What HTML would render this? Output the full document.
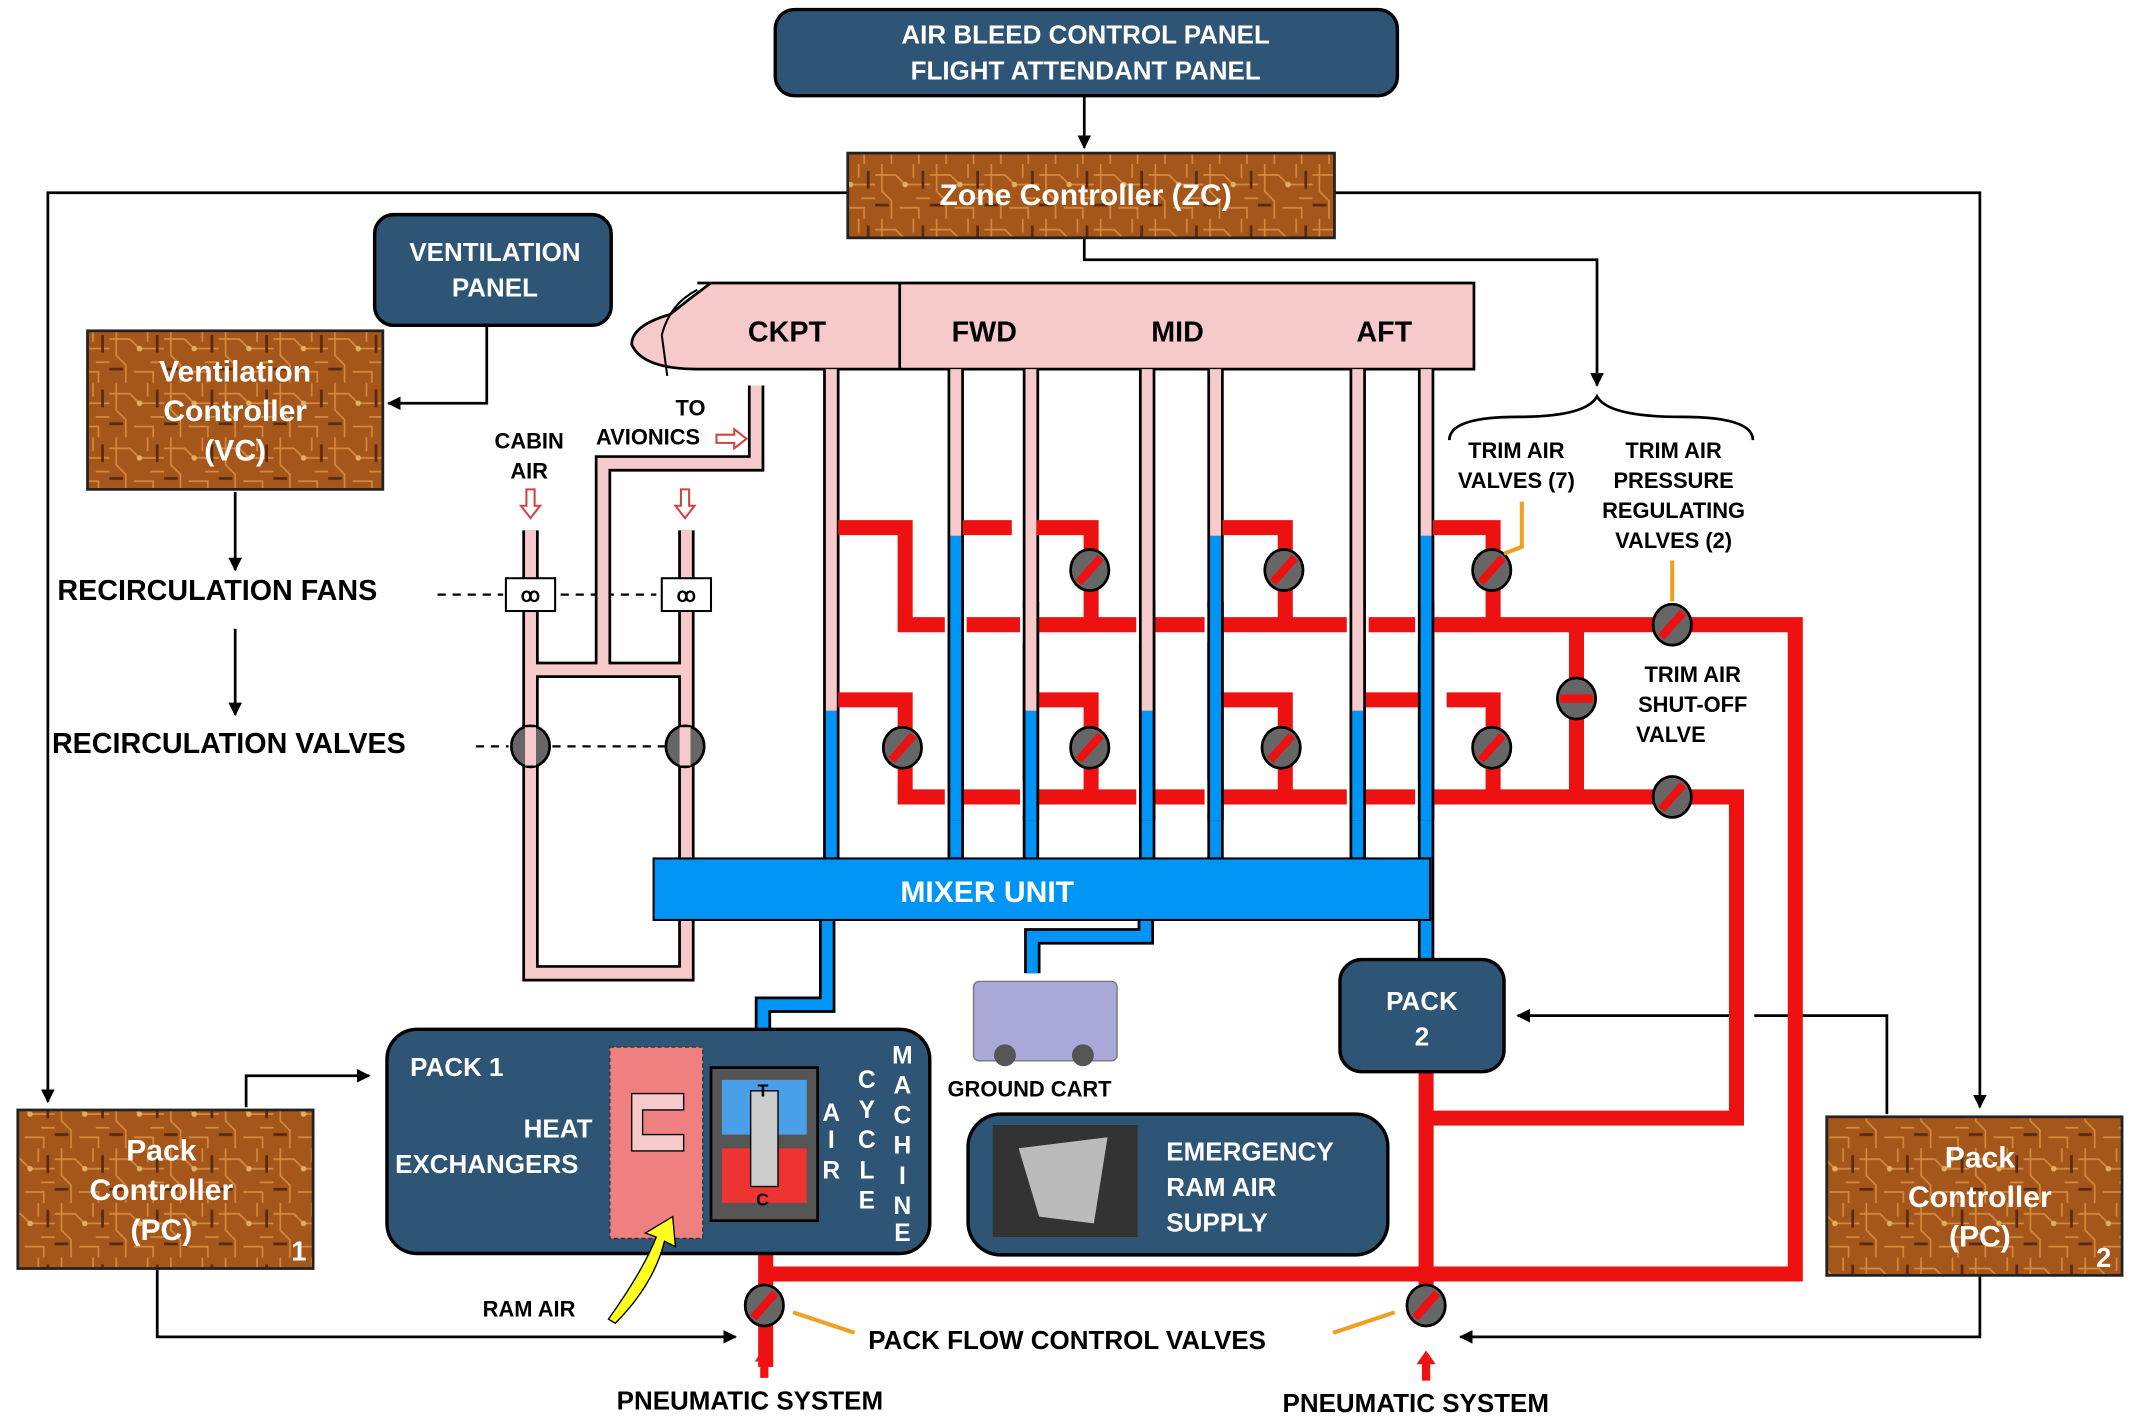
<!DOCTYPE html>
<html><head><meta charset="utf-8"><style>
html,body{margin:0;padding:0;background:#fff;}
svg{display:block;}
text{font-family:"Liberation Sans",Arial,sans-serif;font-weight:bold;}
</style></head><body>
<svg width="2133" height="1423" viewBox="0 0 1560 1041" preserveAspectRatio="none" xmlns="http://www.w3.org/2000/svg">
<defs>
<pattern id="pcb" width="40" height="40" patternUnits="userSpaceOnUse">
<rect width="40" height="40" fill="#a5561a"/>
<path d="M0 8H15L22 15H40M5 0V20L12 27V40M28 0V10M30 25H40M18 32H32V40" stroke="#d48a3c" stroke-width="1.2" fill="none"/>
<path d="M0 30H10M35 5V18" stroke="#5a2a0c" stroke-width="2" fill="none"/>
<circle cx="22" cy="15" r="2" fill="#e0b060"/>
</pattern>
<marker id="ar" markerWidth="10" markerHeight="10" refX="9" refY="5" orient="auto" markerUnits="userSpaceOnUse"><path d="M0 0L10 5L0 10z" fill="#000"/></marker>
</defs>

<g stroke="#000" stroke-width="2" fill="none">
<path d="M793 70V108" marker-end="url(#ar)"/>
<path d="M620 141H35V806" marker-end="url(#ar)"/>
<path d="M976 141H1448V810" marker-end="url(#ar)"/>
<path d="M793 174V190H1168V282" marker-end="url(#ar)"/>
<path d="M356 238V295H284" marker-end="url(#ar)"/>
<path d="M172 360V417" marker-end="url(#ar)"/>
<path d="M172 460V523" marker-end="url(#ar)"/>
<path d="M180 810V787H270" marker-end="url(#ar)"/>
<path d="M115 928V978H538" marker-end="url(#ar)"/>
<path d="M1448 933V978H1068" marker-end="url(#ar)"/>
<path d="M1380 815V743H1283M1265 743H1110" marker-end="url(#ar)"/>
<path d="M1060 322Q1060 305 1110 305Q1160 305 1168 290Q1176 305 1230 305Q1282 305 1282 322"/>
</g>
<g stroke="#000" stroke-width="1.6" stroke-dasharray="6,5" fill="none">
<path d="M320 435H368M410 435H480"/>
<path d="M348 546H372M404 546H486"/>
</g>

<path d="M510 207H1078V270H510Q470 270 462 252Q462 238 490 230Q505 218 520 207Z" fill="#f6c9cb" stroke="#000" stroke-width="2"/>
<path d="M510 212Q490 222 484 245L488 275" fill="none" stroke="#000" stroke-width="1.5"/>
<line x1="658" y1="207" x2="658" y2="270" stroke="#000" stroke-width="2"/>
<g font-size="21" fill="#000"><text x="547" y="250">CKPT</text><text x="696" y="250">FWD</text><text x="842" y="250">MID</text><text x="992" y="250">AFT</text></g>

<g fill="none">
<g stroke="#000" stroke-width="12">
<path d="M388 388V712H502V388"/><path d="M388 490H502"/><path d="M441 490V339H553V282"/>
</g>
<g stroke="#f6c9cb" stroke-width="8">
<path d="M388 388V712H502V388"/><path d="M388 490H502"/><path d="M441 490V339H553V282"/>
</g>
</g>
<g fill="none">
<g stroke="#000" stroke-width="12">
<path d="M608 270V632M699 270V632M754 270V632M839 270V632M889 270V632M993 270V632M1043 270V705"/>
<path d="M605 672V735H558V790M838 672V685H755V712"/>
</g>
<g stroke="#f6c9cb" stroke-width="8">
<path d="M608 270V520M699 270V392M754 270V520M839 270V520M889 270V392M993 270V520M1043 270V392"/>
</g>
<g stroke="#0095f5" stroke-width="8">
<path d="M608 520V632M699 392V632M754 520V632M839 520V632M889 392V632M993 520V632M1043 392V705"/>
<path d="M605 672V735H558V790M838 672V685H755V712"/>
</g>
</g>
<rect x="478" y="628" width="568" height="45" fill="#0095f5" stroke="#000" stroke-width="1.5"/>
<text x="722" y="660" font-size="22" fill="#fff" text-anchor="middle">MIXER UNIT</text>

<g fill="none" stroke="#ee1111" stroke-width="11">
<path d="M613 386H662V457H1313V932H560"/>
<path d="M1043 583H1270V818H1043"/>
<path d="M613 512H662V583H1043"/>
<path d="M704 386H740M758 386H798V457M894 386H940V457M1048 386H1092V457"/>
<path d="M758 512H798V583M894 512H940V583M998 512H1040M1058 512H1092V583"/>
<path d="M1153 457V583"/>
<path d="M1043 784V960M560 890V1000"/>
</g>
<g stroke="#fff" stroke-width="6">
<path d="M694 445V470M704 445V470M749 445V470M754 445V470M834 445V470M884 445V470M988 445V470M998 445V470M1038 445V470"/>
<path d="M694 571V596M749 571V596M834 571V596M884 571V596M988 571V596M1038 571V596"/>
</g>
<g fill="none">
<g stroke="#000" stroke-width="12"><path d="M699 440V600M754 440V600M839 440V600M889 440V600M993 440V600M1043 440V600"/></g>
<g stroke="#f6c9cb" stroke-width="8"><path d="M754 440V520M839 440V520M993 440V520"/></g>
<g stroke="#0095f5" stroke-width="8"><path d="M699 440V600M754 520V600M839 520V600M889 440V600M993 520V600M1043 440V600"/></g>
</g>

<g>
<g transform="translate(797,417)"><ellipse rx="14" ry="15" fill="#666" stroke="#000" stroke-width="2"/><path d="M-8 9L8 -9" stroke="#ee1111" stroke-width="6"/></g>
<g transform="translate(939,417)"><ellipse rx="14" ry="15" fill="#666" stroke="#000" stroke-width="2"/><path d="M-8 9L8 -9" stroke="#ee1111" stroke-width="6"/></g>
<g transform="translate(1091,417)"><ellipse rx="14" ry="15" fill="#666" stroke="#000" stroke-width="2"/><path d="M-8 9L8 -9" stroke="#ee1111" stroke-width="6"/></g>
<g transform="translate(660,547)"><ellipse rx="14" ry="15" fill="#666" stroke="#000" stroke-width="2"/><path d="M-8 9L8 -9" stroke="#ee1111" stroke-width="6"/></g>
<g transform="translate(797,547)"><ellipse rx="14" ry="15" fill="#666" stroke="#000" stroke-width="2"/><path d="M-8 9L8 -9" stroke="#ee1111" stroke-width="6"/></g>
<g transform="translate(937,547)"><ellipse rx="14" ry="15" fill="#666" stroke="#000" stroke-width="2"/><path d="M-8 9L8 -9" stroke="#ee1111" stroke-width="6"/></g>
<g transform="translate(1091,547)"><ellipse rx="14" ry="15" fill="#666" stroke="#000" stroke-width="2"/><path d="M-8 9L8 -9" stroke="#ee1111" stroke-width="6"/></g>
<g transform="translate(1223,457)"><ellipse rx="14" ry="15" fill="#666" stroke="#000" stroke-width="2"/><path d="M-8 9L8 -9" stroke="#ee1111" stroke-width="6"/></g>
<g transform="translate(1223,583)"><ellipse rx="14" ry="15" fill="#666" stroke="#000" stroke-width="2"/><path d="M-8 9L8 -9" stroke="#ee1111" stroke-width="6"/></g>
<g transform="translate(1153,511)"><ellipse rx="14" ry="15" fill="#666" stroke="#000" stroke-width="2"/><path d="M-12 0H12" stroke="#ee1111" stroke-width="6"/></g>
<g transform="translate(559,955)"><ellipse rx="14" ry="15" fill="#666" stroke="#000" stroke-width="2"/><path d="M-8 9L8 -9" stroke="#ee1111" stroke-width="6"/></g>
<g transform="translate(1043,955)"><ellipse rx="14" ry="15" fill="#666" stroke="#000" stroke-width="2"/><path d="M-8 9L8 -9" stroke="#ee1111" stroke-width="6"/></g>
<g transform="translate(388,546)"><ellipse rx="14" ry="15" fill="#666" stroke="#000" stroke-width="2"/><rect x="-4" y="-14" width="8" height="28" fill="#f6c9cb"/></g>
<g transform="translate(501,546)"><ellipse rx="14" ry="15" fill="#666" stroke="#000" stroke-width="2"/><rect x="-4" y="-14" width="8" height="28" fill="#f6c9cb"/></g>
</g>
<rect x="370" y="423" width="36" height="24" fill="#fff" stroke="#000" stroke-width="1.5"/>
<rect x="484" y="423" width="36" height="24" fill="#fff" stroke="#000" stroke-width="1.5"/>
<text x="388" y="440" font-size="14" text-anchor="middle">ꝏ</text><text x="502" y="440" font-size="14" text-anchor="middle">ꝏ</text>
<g stroke="#f0a020" stroke-width="3" fill="none">
<path d="M1100 405L1113 400V367"/><path d="M1223 440V410"/><path d="M580 960L625 975"/><path d="M975 975L1020 960"/>
</g>
<g fill="#fff" stroke="#c44" stroke-width="1.5">
<path d="M385 358H391V370H395L388 379L381 370H385Z"/><path d="M498 358H504V370H508L501 379L494 370H498Z"/>
<path d="M524 318H537V314L546 321L537 328V324H524Z"/>
</g>

<rect x="567" y="7" width="455" height="63" rx="14" fill="#2f5576" stroke="#000" stroke-width="2.5"/>
<text x="794" y="32" font-size="19" fill="#fff" text-anchor="middle">AIR BLEED CONTROL PANEL</text>
<text x="794" y="58" font-size="19" fill="#fff" text-anchor="middle">FLIGHT ATTENDANT PANEL</text>
<rect x="620" y="112" width="356" height="62" fill="url(#pcb)" stroke="#222" stroke-width="2"/>
<text x="794" y="150" font-size="22" fill="#fff" text-anchor="middle">Zone Controller (ZC)</text>
<rect x="274" y="157" width="173" height="81" rx="14" fill="#2f5576" stroke="#000" stroke-width="2.5"/>
<text x="362" y="191" font-size="19" fill="#fff" text-anchor="middle">VENTILATION</text><text x="362" y="217" font-size="19" fill="#fff" text-anchor="middle">PANEL</text>
<rect x="64" y="242" width="216" height="116" fill="url(#pcb)" stroke="#222" stroke-width="2"/>
<g font-size="22" fill="#fff" text-anchor="middle"><text x="172" y="279">Ventilation</text><text x="172" y="308">Controller</text><text x="172" y="337">(VC)</text></g>
<rect x="13" y="812" width="216" height="116" fill="url(#pcb)" stroke="#222" stroke-width="2"/>
<g font-size="22" fill="#fff" text-anchor="middle"><text x="118" y="849">Pack</text><text x="118" y="878">Controller</text><text x="118" y="907">(PC)</text></g>
<text x="213" y="922" font-size="20" fill="#fff">1</text>
<rect x="1336" y="817" width="216" height="116" fill="url(#pcb)" stroke="#222" stroke-width="2"/>
<g font-size="22" fill="#fff" text-anchor="middle"><text x="1448" y="854">Pack</text><text x="1448" y="883">Controller</text><text x="1448" y="912">(PC)</text></g>
<text x="1533" y="927" font-size="20" fill="#fff">2</text>

<rect x="283" y="753" width="397" height="164" rx="22" fill="#2f5576" stroke="#000" stroke-width="2.5"/>
<g font-size="19" fill="#fff"><text x="300" y="787">PACK 1</text><text x="383" y="832">HEAT</text><text x="289" y="858">EXCHANGERS</text></g>
<rect x="446" y="766" width="68" height="140" fill="#f08080" stroke="#333" stroke-dasharray="3,2"/>
<path d="M462 800H500V812H470V830H500V842H462Z" fill="#f6c9cb" stroke="#000"/>
<rect x="520" y="781" width="78" height="112" fill="#555" stroke="#000" stroke-width="2"/>
<path d="M528 790H590V830H528Z" fill="#4aa0e8"/><path d="M528 840H590V880H528Z" fill="#e33"/>
<rect x="549" y="798" width="20" height="70" fill="#ccc" stroke="#000"/>
<text x="554" y="802" font-size="13" fill="#000">T</text><text x="553" y="882" font-size="13" fill="#000">C</text>
<g font-size="18" fill="#fff" text-anchor="middle">
<text x="608" y="820">A</text><text x="608" y="840">I</text><text x="608" y="862">R</text>
<text x="634" y="796">C</text><text x="634" y="818">Y</text><text x="634" y="840">C</text><text x="634" y="862">L</text><text x="634" y="884">E</text>
<text x="660" y="778">M</text><text x="660" y="800">A</text><text x="660" y="822">C</text><text x="660" y="844">H</text><text x="660" y="866">I</text><text x="660" y="888">N</text><text x="660" y="908">E</text>
</g>
<path d="M445 965Q470 930 480 905L472 902L492 890L494 912L486 908Q478 940 450 968Z" fill="#ffff20" stroke="#000"/>
<text x="353" y="963" font-size="16" fill="#000">RAM AIR</text>

<rect x="980" y="702" width="120" height="82" rx="16" fill="#2f5576" stroke="#000" stroke-width="2.5"/>
<text x="1040" y="739" font-size="19" fill="#fff" text-anchor="middle">PACK</text><text x="1040" y="765" font-size="19" fill="#fff" text-anchor="middle">2</text>

<rect x="708" y="815" width="307" height="103" rx="24" fill="#2f5576" stroke="#000" stroke-width="2.5"/>
<rect x="726" y="823" width="106" height="82" fill="#333"/><path d="M745 840L810 832L800 895L760 890Z" fill="#bbb"/>
<g font-size="19" fill="#fff"><text x="853" y="849">EMERGENCY</text><text x="853" y="875">RAM AIR</text><text x="853" y="901">SUPPLY</text></g>

<rect x="712" y="718" width="105" height="58" rx="4" fill="#a9a8d8" stroke="#777"/>
<circle cx="735" cy="772" r="8" fill="#555"/><circle cx="792" cy="772" r="8" fill="#555"/>
<text x="693" y="802" font-size="16" fill="#000">GROUND CART</text>

<g font-size="16" fill="#000" text-anchor="middle">
<text x="387" y="328">CABIN</text><text x="387" y="350">AIR</text>
<text x="505" y="304">TO</text><text x="474" y="325">AVIONICS</text>
<text x="1109" y="335">TRIM AIR</text><text x="1109" y="357">VALVES (7)</text>
<text x="1224" y="335">TRIM AIR</text><text x="1224" y="357">PRESSURE</text><text x="1224" y="379">REGULATING</text><text x="1224" y="401">VALVES (2)</text>
<text x="1238" y="499">TRIM AIR</text><text x="1238" y="521">SHUT-OFF</text><text x="1222" y="543">VALVE</text>
</g>
<g font-size="21" fill="#000"><text x="42" y="439">RECIRCULATION FANS</text><text x="38" y="551">RECIRCULATION VALVES</text></g>
<g font-size="19" fill="#000"><text x="635" y="987">PACK FLOW CONTROL VALVES</text><text x="451" y="1031">PNEUMATIC SYSTEM</text><text x="938" y="1033">PNEUMATIC SYSTEM</text></g>
<g fill="#ee1111"><path d="M556 1008V996H552L559 986L566 996H562V1008Z"/><path d="M1040 1010V998H1036L1043 988L1050 998H1046V1010Z"/></g>
</svg>
</body></html>
